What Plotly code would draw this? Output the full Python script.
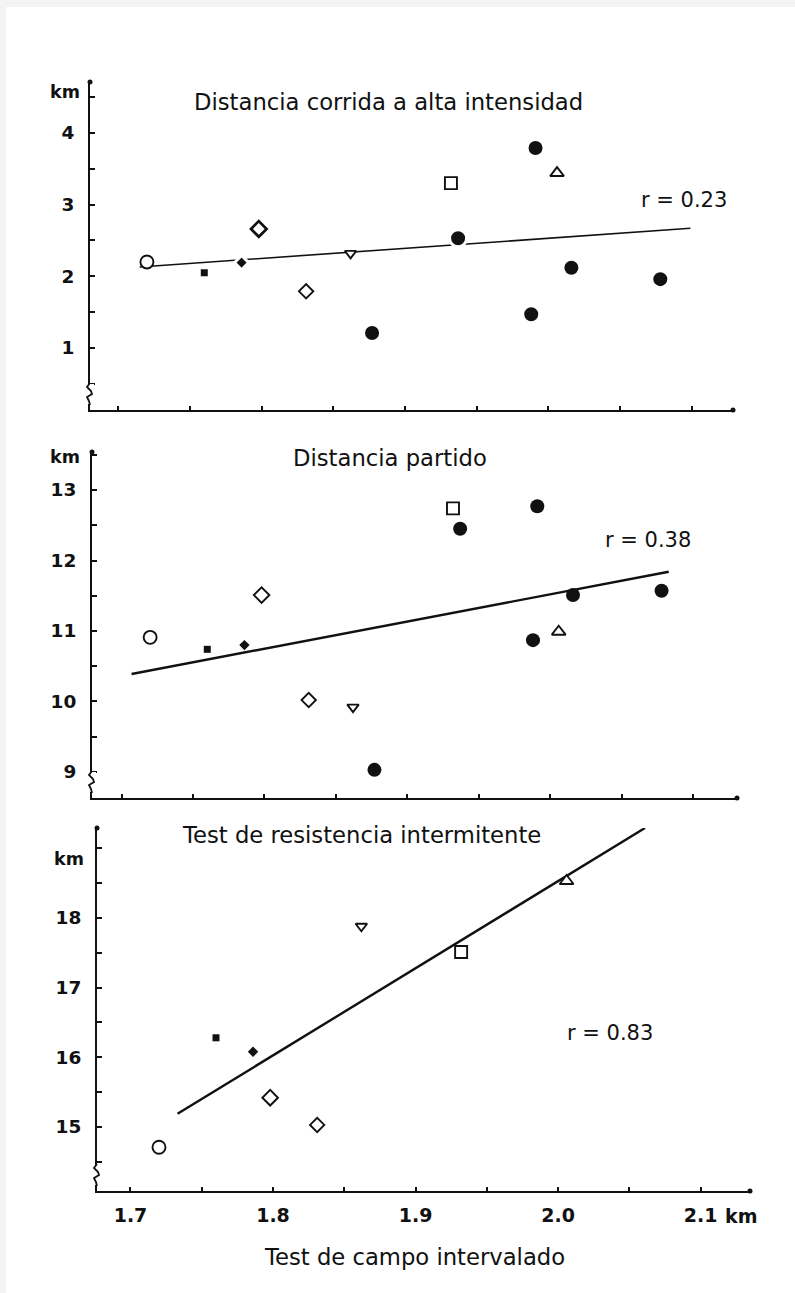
import plotly.graph_objects as go

W, H = 795, 1293
INK = "#111111"
FONT = "DejaVu Sans"

# ---- data -------------------------------------------------------------
# Interval field test result (km) for each player, same order in all panels
player_x = [1.720, 1.760, 1.786, 1.798, 1.831, 1.862, 1.877,
            1.932, 1.937, 1.991, 1.988, 2.006, 2.016, 2.078]
symbols = ["circle", "square", "diamond", "diamond", "diamond", "triangle-down", "circle",
           "square", "circle", "circle", "circle", "triangle-up", "circle", "circle"]
filled = [False, True, True, False, False, False, True,
          False, True, True, True, False, True, True]

# High-intensity running distance in a match (km)
high_intensity_km = [2.20, 2.05, 2.19, 2.66, 1.79, 2.32, 1.21,
                     3.30, 2.53, 3.79, 1.47, 3.44, 2.12, 1.96]
# Total match distance (km)
match_km = [10.91, 10.74, 10.80, 11.51, 10.02, 9.92, 9.03,
            12.74, 12.45, 12.77, 10.87, 10.99, 11.51, 11.57]
# Intermittent endurance test (km); not every player took it
intermittent_km = [14.71, 16.28, 16.08, 15.42, 15.03, 17.88, None,
                   17.51, None, None, None, 18.53, None, None]

# Regression lines (end points)
fit_top_x, fit_top_y = [1.715, 2.099], [2.13, 2.67]
fit_mid_x, fit_mid_y = [1.707, 2.083], [10.39, 11.84]
fit_bot_x, fit_bot_y = [1.733, 2.061], [15.19, 19.29]

titles = ["Distancia corrida a alta intensidad", "Distancia partido",
          "Test de resistencia intermitente"]
r_labels = ["r = 0.23", "r = 0.38", "r = 0.83"]
x_ticks = [1.70, 1.75, 1.80, 1.85, 1.90, 1.95, 2.00, 2.05, 2.10]
x_tick_text = ["1.7", "", "1.8", "", "1.9", "", "2.0", "", "2.1"]

# ---- panel geometry (pixels) ------------------------------------------
panels = [
    dict(left=90, right=733, top=82, bottom=410,
         xr=[1.6803, 2.1287], yr=[0.135, 4.71],
         yt=[0.5, 1, 1.5, 2, 2.5, 3, 3.5, 4, 4.5],
         ys=["", "1", "", "2", "", "3", "", "4", ""],
         ydata=high_intensity_km, fx=fit_top_x, fy=fit_top_y, lw=1.6, gap=3,
         title_xy=(388, 102), r_xy=(684, 200), km_xy=(65, 92)),
    dict(left=92, right=737, top=452, bottom=798,
         xr=[1.6793, 2.1308], yr=[8.631, 13.539],
         yt=[9, 9.5, 10, 10.5, 11, 11.5, 12, 12.5, 13, 13.5],
         ys=["9", "", "10", "", "11", "", "12", "", "13", ""],
         ydata=match_km, fx=fit_mid_x, fy=fit_mid_y, lw=2.4, gap=0,
         title_xy=(390, 458), r_xy=(648, 540), km_xy=(65, 457)),
    dict(left=97, right=750, top=828, bottom=1191,
         xr=[1.6765, 2.1347], yr=[14.082, 19.29],
         yt=[14.5, 15, 15.5, 16, 16.5, 17, 17.5, 18, 18.5, 19],
         ys=["", "15", "", "16", "", "17", "", "18", "", ""],
         ydata=intermittent_km, fx=fit_bot_x, fy=fit_bot_y, lw=2.4, gap=0,
         title_xy=(361, 835), r_xy=(610, 1033), km_xy=(69, 859)),
]


def fx(px):
    return px / W


def fy(py):
    return 1 - py / H


def path_from(points):
    return "M " + " L ".join(f"{fx(x):.5f},{fy(y):.5f}" for x, y in points)


def label(text, x, y, size, bold=False):
    return dict(text=f"<b>{text}</b>" if bold else text, x=fx(x), y=fy(y),
                xref="paper", yref="paper", showarrow=False,
                xanchor="center", yanchor="middle",
                font=dict(family=FONT, size=size, color=INK))


fig = go.Figure()
layout = dict(
    width=W, height=H, margin=dict(l=0, r=0, t=0, b=0),
    paper_bgcolor="white", plot_bgcolor="rgba(0,0,0,0)",
    showlegend=False, font=dict(family=FONT, color=INK),
)
shapes, annotations = [], []

sizes = [13, 7, 8, 12, 11, 10, 14, 12, 14, 14, 14, 12, 14, 14]
tick_font = dict(family=FONT, size=18.5, color=INK, weight="bold")

for i, p in enumerate(panels):
    n = "" if i == 0 else str(i + 1)
    xa, ya = "x" + n, "y" + n

    # regression line
    fig.add_trace(go.Scatter(x=p["fx"], y=p["fy"], mode="lines",
                             line=dict(color=INK, width=p["lw"]),
                             xaxis=xa, yaxis=ya, hoverinfo="skip"))
    # players
    fill = [INK if f else "white" for f in filled]
    edge = ["white" if f else INK for f in filled]
    edge_w = [p["gap"] if f else 1.9 for f in filled]
    if i == 0:
        edge_w[3] = 2.7  # bolder open diamond in the first panel
    fig.add_trace(go.Scatter(
        x=player_x, y=p["ydata"], mode="markers",
        marker=dict(symbol=symbols, opacity=1,
                    size=[s + (p["gap"] if f else 0) for s, f in zip(sizes, filled)],
                    color=fill, line=dict(color=edge, width=edge_w)),
        xaxis=xa, yaxis=ya, cliponaxis=False))

    last = i == 2
    layout["xaxis" + n] = dict(
        domain=[fx(p["left"]), fx(p["right"])], range=p["xr"], anchor=ya,
        showgrid=False, zeroline=False, showline=True, linecolor=INK, linewidth=2,
        ticks="inside", ticklen=4, tickwidth=1.5, tickcolor=INK,
        tickvals=x_ticks, ticktext=x_tick_text, showticklabels=last,
        tickfont=dict(family=FONT, size=19, color=INK, weight="bold"), ticklabelstandoff=6,
        fixedrange=True)
    layout["yaxis" + n] = dict(
        domain=[fy(p["bottom"]), fy(p["top"])], range=p["yr"], anchor=xa,
        showgrid=False, zeroline=False, showline=True, linecolor=INK, linewidth=2,
        ticks="inside", ticklen=5, tickwidth=1.5, tickcolor=INK,
        tickvals=p["yt"], ticktext=p["ys"],
        tickfont=tick_font, ticklabelstandoff=10,
        fixedrange=True)

    # axis break on the value axis, near the origin
    X0, Y0 = p["left"], p["bottom"]
    shapes.append(dict(type="rect", xref="paper", yref="paper",
                       x0=fx(X0 - 4), x1=fx(X0 + 4), y0=fy(Y0 - 6), y1=fy(Y0 - 26),
                       fillcolor="white", line=dict(width=0), layer="above"))
    shapes.append(dict(type="path", xref="paper", yref="paper",
                       path=path_from([(X0, Y0 - 27), (X0 - 3, Y0 - 23), (X0 + 1, Y0 - 19),
                                       (X0 + 2, Y0 - 16), (X0 - 3, Y0 - 13), (X0 - 1, Y0 - 9),
                                       (X0, Y0 - 5)]),
                       line=dict(color=INK, width=1.8), layer="above"))
    # small dots at the axis ends
    for cx, cy in [(X0, p["top"]), (p["right"], Y0)]:
        shapes.append(dict(type="circle", xref="paper", yref="paper",
                           x0=fx(cx - 2.5), x1=fx(cx + 2.5), y0=fy(cy + 2.5), y1=fy(cy - 2.5),
                           fillcolor=INK, line=dict(width=0), layer="above"))

    annotations.append(label(titles[i], *p["title_xy"], 22.7))
    annotations.append(label(r_labels[i], *p["r_xy"], 21))
    annotations.append(label("km", *p["km_xy"], 17.5, bold=True))

# unit after the last x tick label and the x-axis title
annotations.append(label("km", 741, 1216, 19, bold=True))
annotations.append(label("Test de campo intervalado", 414, 1257, 22.7))

# light frame along the top and left edges of the page
shapes.append(dict(type="rect", xref="paper", yref="paper", x0=0, x1=1, y0=fy(7), y1=1,
                   fillcolor="#f3f3f3", line=dict(width=0), layer="below"))
shapes.append(dict(type="rect", xref="paper", yref="paper", x0=0, x1=fx(6), y0=0, y1=1,
                   fillcolor="#f3f3f3", line=dict(width=0), layer="below"))

layout["shapes"] = shapes
layout["annotations"] = annotations
fig.update_layout(**layout)
fig.write_html("out.html")
